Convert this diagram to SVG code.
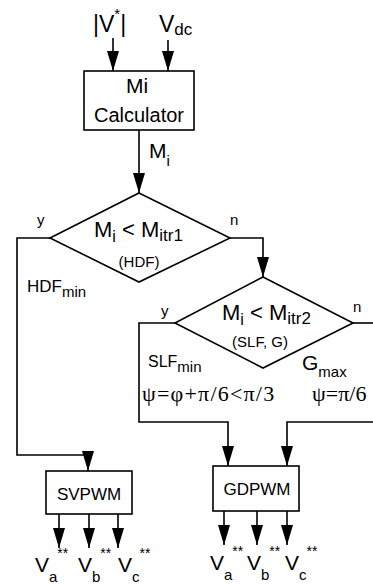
<svg xmlns="http://www.w3.org/2000/svg" width="373" height="586" viewBox="0 0 373 586">
<style>
.ln{fill:none;stroke:#000;stroke-width:1.6}
.bx{fill:#fff;stroke:#000;stroke-width:1.6}
.t{font-family:"Liberation Sans",Arial,sans-serif;fill:#000}
.s{font-family:"Liberation Serif","Times New Roman",serif;fill:#000}
</style>
<defs>
<marker id="ah" viewBox="0 -6 20 12" refX="20" refY="0" markerWidth="20" markerHeight="12" markerUnits="userSpaceOnUse" orient="auto">
<path d="M0,-6 L20,0 L0,6 z" fill="#000"/>
</marker>
</defs>
<rect width="373" height="586" fill="#fff"/>
<g id="connectors">
<line class="ln" x1="113" y1="38" x2="113" y2="71" marker-end="url(#ah)"/>
<line class="ln" x1="168" y1="40" x2="168" y2="71" marker-end="url(#ah)"/>
<line class="ln" x1="139" y1="130" x2="139" y2="193" marker-end="url(#ah)"/>
<polyline class="ln" points="230,238 263,238 263,277" marker-end="url(#ah)"/>
<polyline class="ln" points="50,238 17,238 17,455 88,455 88,471" marker-end="url(#ah)"/>
<polyline class="ln" points="175,323 139,323 139,422 228,422 228,466" marker-end="url(#ah)"/>
<line class="ln" x1="353" y1="323" x2="373" y2="323"/>
<polyline class="ln" points="373,422 287,422 287,466" marker-end="url(#ah)"/>
<line class="ln" x1="59" y1="514" x2="59" y2="548" marker-end="url(#ah)"/>
<line class="ln" x1="89" y1="514" x2="89" y2="548" marker-end="url(#ah)"/>
<line class="ln" x1="118" y1="514" x2="118" y2="548" marker-end="url(#ah)"/>
<line class="ln" x1="224" y1="511" x2="224" y2="545" marker-end="url(#ah)"/>
<line class="ln" x1="257" y1="511" x2="257" y2="545" marker-end="url(#ah)"/>
<line class="ln" x1="287" y1="511" x2="287" y2="545" marker-end="url(#ah)"/>
</g>
<g id="inputs">
<text class="t" x="93" y="32" font-size="23">|V<tspan font-size="15" dy="-13">*</tspan><tspan dy="13">|</tspan></text>
<text class="t" x="159" y="32" font-size="23">V<tspan font-size="17" dy="3">dc</tspan></text>
</g>
<g id="mi-calculator">
<rect class="bx" x="84" y="71" width="110" height="59"/>
<text class="t" x="137" y="93" font-size="21" text-anchor="middle">Mi</text>
<text class="t" x="139" y="122" font-size="20" text-anchor="middle">Calculator</text>
<text class="t" x="149" y="158" font-size="21">M<tspan font-size="15" dy="8">i</tspan></text>
</g>
<g id="decision-1">
<polygon class="bx" points="139,193 230,238 139,282 50,238"/>
<text class="t" x="94" y="237" font-size="22">M<tspan font-size="16" dy="5">i</tspan><tspan dy="-5" font-size="22"> &lt; M</tspan><tspan font-size="17" dy="4">itr1</tspan></text>
<text class="t" x="139" y="267" font-size="15" text-anchor="middle">(HDF)</text>
<text class="t" x="37" y="225" font-size="15">y</text>
<text class="t" x="230" y="225" font-size="15">n</text>
<text class="t" x="27" y="292" font-size="17">HDF<tspan font-size="15" dy="5">min</tspan></text>
</g>
<g id="decision-2">
<polygon class="bx" points="263,277 353,323 263,368 175,323"/>
<text class="t" x="222" y="320" font-size="22">M<tspan font-size="16" dy="5">i</tspan><tspan dy="-5" font-size="22"> &lt; M</tspan><tspan font-size="17" dy="4">itr2</tspan></text>
<text class="t" x="260" y="347" font-size="15" text-anchor="middle">(SLF, G)</text>
<text class="t" x="161" y="316" font-size="15">y</text>
<text class="t" x="353" y="312" font-size="15">n</text>
<text class="t" x="148" y="367" font-size="16">SLF<tspan font-size="15" dy="5">min</tspan></text>
<text class="t" x="302" y="370" font-size="21">G<tspan font-size="15" dy="7">max</tspan></text>
<text class="s" x="142" y="401" font-size="22" letter-spacing="1.2">ψ=φ+π/6&lt;π/3</text>
<text class="s" x="312" y="401" font-size="22">ψ=π/6</text>
</g>
<g id="svpwm">
<rect class="bx" x="46" y="471" width="86" height="43"/>
<text class="t" x="89" y="500" font-size="17" text-anchor="middle">SVPWM</text>
<text class="t" x="35" y="572" font-size="21">V<tspan font-size="15" dy="10">a</tspan><tspan font-size="14" dy="-24">**</tspan></text>
<text class="t" x="78" y="572" font-size="21">V<tspan font-size="15" dy="10">b</tspan><tspan font-size="14" dy="-24">**</tspan></text>
<text class="t" x="118" y="572" font-size="21">V<tspan font-size="15" dy="10">c</tspan><tspan font-size="14" dy="-24">**</tspan></text>
</g>
<g id="gdpwm">
<rect class="bx" x="213" y="466" width="86" height="45"/>
<text class="t" x="257" y="495" font-size="17" text-anchor="middle">GDPWM</text>
<text class="t" x="210" y="570" font-size="21">V<tspan font-size="15" dy="10">a</tspan><tspan font-size="14" dy="-24">**</tspan></text>
<text class="t" x="247" y="570" font-size="21">V<tspan font-size="15" dy="10">b</tspan><tspan font-size="14" dy="-24">**</tspan></text>
<text class="t" x="285" y="570" font-size="21">V<tspan font-size="15" dy="10">c</tspan><tspan font-size="14" dy="-24">**</tspan></text>
</g>
</svg>
